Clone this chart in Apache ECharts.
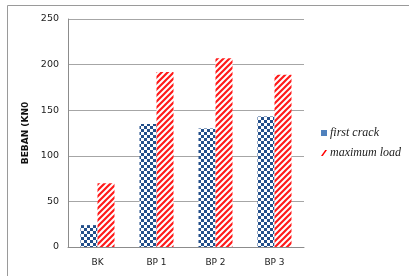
<!DOCTYPE html>
<html><head><meta charset="utf-8">
<script src="https://cdn.jsdelivr.net/npm/echarts@6/dist/echarts.min.js"></script>
<style>html,body{margin:0;padding:0;background:#fff}#c{width:409px;height:276px}</style>
</head><body><div id="c"></div>
<script>
var categories = ['BK', 'BP 1', 'BP 2', 'BP 3'];
var firstCrack = [24, 135, 130, 143];
var maximumLoad = [70, 192, 207, 189];
var yTicks = [0, 50, 100, 150, 200, 250];

function checker() {
  var c = document.createElement('canvas'); c.width = 6; c.height = 6;
  var g = c.getContext('2d');
  g.fillStyle = '#ffffff'; g.fillRect(0, 0, 6, 6);
  g.fillStyle = '#234f8a';
  g.fillRect(0, 0, 3, 3); g.fillRect(3, 3, 3, 3);
  return c;
}
function stripes() {
  var c = document.createElement('canvas'); c.width = 6; c.height = 6;
  var g = c.getContext('2d');
  g.fillStyle = '#ffffff'; g.fillRect(0, 0, 6, 6);
  g.strokeStyle = '#ff1a1a'; g.lineWidth = 2.2;
  g.beginPath();
  g.moveTo(-1, 7); g.lineTo(7, -1);
  g.moveTo(-4, 4); g.lineTo(4, -4);
  g.moveTo(2, 10); g.lineTo(10, 2);
  g.stroke();
  return c;
}

var chart = echarts.init(document.getElementById('c'), null, {renderer: 'canvas'});
chart.setOption({
  animation: false,
  graphic: [{type: 'rect', shape: {x: 7.5, y: 5.5, width: 420, height: 300}, style: {fill: 'none', stroke: '#9a9a9a', lineWidth: 1}}],
  grid: {left: 68, right: 105, top: 19, bottom: 29},
  legend: {
    orient: 'vertical', left: 321, top: 127, itemGap: 8, itemWidth: 6, itemHeight: 6,
    padding: 0,
    textStyle: {fontFamily: 'Liberation Serif', fontStyle: 'italic', fontSize: 12, color: '#222', padding: [0, 0, 0, -2]},
    data: [
      {name: 'first crack', icon: 'rect', itemStyle: {color: '#4f81bd'}},
      {name: 'maximum load', icon: 'path://M0,10 L7,0 L10,0 L3,10 Z', itemStyle: {color: '#ff0000'}}
    ]
  },
  xAxis: {
    type: 'category', data: categories,
    axisLine: {lineStyle: {color: '#8c8c8c'}}, axisTick: {show: false},
    axisLabel: {fontFamily: 'DejaVu Sans', fontSize: 9, color: '#222', margin: 11}
  },
  yAxis: {
    type: 'value', min: 0, max: 250, interval: 50,
    name: 'BEBAN (KN0', nameLocation: 'middle', nameGap: 27,
    nameTextStyle: {fontFamily: 'DejaVu Sans', fontWeight: 'bold', fontSize: 9, color: '#111'},
    axisLine: {show: true, lineStyle: {color: '#8c8c8c'}}, axisTick: {show: false},
    axisLabel: {fontFamily: 'DejaVu Sans', fontSize: 9.5, color: '#222', margin: 9,
      formatter: function (v) { return yTicks.indexOf(v) >= 0 ? String(v) : ''; }},
    splitLine: {lineStyle: {color: '#a6a6a6'}}
  },
  series: [
    {name: 'first crack', type: 'bar', data: firstCrack, barWidth: 17, barGap: '0%',
      itemStyle: {color: {image: checker(), repeat: 'repeat'}}},
    {name: 'maximum load', type: 'bar', data: maximumLoad, barWidth: 17,
      itemStyle: {color: {image: stripes(), repeat: 'repeat'}}}
  ]
});
</script></body></html>
